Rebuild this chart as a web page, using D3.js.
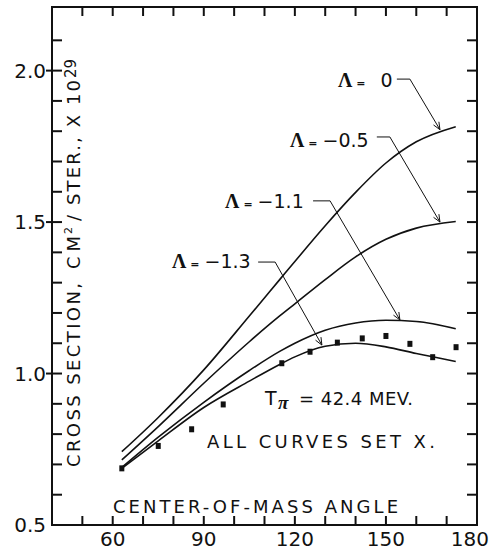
<!DOCTYPE html>
<html>
<head>
<meta charset="utf-8">
<script src="https://cdn.jsdelivr.net/npm/d3@7"></script>
<style>
  body { margin: 0; background: #fff; }
  text { font-family: "DejaVu Sans", sans-serif; fill: #111; }
</style>
</head>
<body>
<div id="main"></div>
<script>
// curves: c.m. angle (deg) vs cross section (x 10^-29 cm2/ster)
var curveAngles = [63, 75, 90, 105, 115, 120, 130, 140, 150, 160, 173];
var lambda0 = [0.742, 0.855, 1.012, 1.190, 1.310, 1.370, 1.488, 1.598, 1.695, 1.765, 1.815];
var lambdaM05 = [0.715, 0.825, 0.968, 1.105, 1.190, 1.230, 1.310, 1.385, 1.443, 1.480, 1.502];
var lambdaM11 = [0.690, 0.790, 0.905, 1.010, 1.073, 1.100, 1.143, 1.167, 1.176, 1.172, 1.148];
var lambdaM13 = [0.687, 0.778, 0.888, 0.975, 1.030, 1.055, 1.090, 1.100, 1.088, 1.066, 1.040];

// measured points
var pointAngles = [63, 75, 86, 96.4, 115.7, 125, 134, 142.2, 150, 157.9, 165.4, 173.1];
var pointValues = [0.687, 0.761, 0.816, 0.898, 1.034, 1.072, 1.102, 1.116, 1.124, 1.098, 1.054, 1.087];

// axis ticks
var xTicks = [50, 60, 70, 80, 90, 100, 110, 120, 130, 140, 150, 160, 170];
var xLabels = [60, 90, 120, 150, 180];
var yTicks = [0.6, 0.7, 0.8, 0.9, 1.0, 1.1, 1.2, 1.3, 1.4, 1.5, 1.6, 1.7, 1.8, 1.9, 2.0, 2.1];
var yLabels = [0.5, 1.0, 1.5, 2.0];

// annotations (data coords): label start, leader [x0, x1, y], arrow tip
var lambdaNames = ["0", "\u22120.5", "\u22121.1", "\u22121.3"];
var labelAt = [[134.2, 1.946], [118.4, 1.748], [97.0, 1.547], [79.5, 1.348]];
var leaders = [[153.6, 157.9, 1.972], [147.0, 151.3, 1.781], [126.0, 131.6, 1.570], [107.9, 113.5, 1.368]];
var tips = [[167.8, 1.805], [167.8, 1.500], [154.6, 1.177], [128.9, 1.094]];

var width = 490, height = 550;
var svg = d3.select("#main").append("svg")
  .attr("width", width).attr("height", height);

var x = d3.scaleLinear().domain([40, 180]).range([52, 477]);
var y = d3.scaleLinear().domain([0.5, 2.21]).range([525, 7]);
var xL = x(40), xR = x(180), yB = y(0.5), yT = y(2.21);

// frame
svg.append("rect")
  .attr("x", xL).attr("y", yT)
  .attr("width", xR - xL).attr("height", yB - yT)
  .attr("fill", "none").attr("stroke", "#111").attr("stroke-width", 2);

// inward ticks
var tickG = svg.append("g").attr("class", "ticks");
tickG.selectAll("path.tb").data(xTicks).enter().append("path")
  .attr("class", "tb")
  .attr("d", function (d) { return "M" + x(d) + "," + yB + "V" + (yB - 9); });
tickG.selectAll("path.tt").data(xTicks).enter().append("path")
  .attr("class", "tt")
  .attr("d", function (d) { return "M" + x(d) + "," + yT + "V" + (yT + 9); });
tickG.selectAll("path.tl").data(yTicks).enter().append("path")
  .attr("class", "tl")
  .attr("d", function (d) {
    return "M" + (yLabels.indexOf(d) >= 0 ? xL - 6 : xL) + "," + y(d) + "H" + (xL + 10);
  });
tickG.selectAll("path.tr").data(yTicks).enter().append("path")
  .attr("class", "tr")
  .attr("d", function (d) { return "M" + (xR - 10) + "," + y(d) + "H" + xR; });
tickG.selectAll("path")
  .attr("fill", "none").attr("stroke", "#111").attr("stroke-width", 2);

// tick labels
svg.selectAll(".xlab").data(xLabels).enter().append("text")
  .attr("x", function (d) { return d === 180 ? 489 : x(d); }).attr("y", 546)
  .attr("text-anchor", function (d) { return d === 180 ? "end" : "middle"; })
  .style("font-size", "20px")
  .text(function (d) { return d; });
svg.selectAll(".ylab").data(yLabels).enter().append("text")
  .attr("x", xL - 6).attr("y", function (d) { return y(d); })
  .attr("dy", "0.35em").attr("text-anchor", "end").style("font-size", "20px")
  .text(function (d) { return d3.format(".1f")(d); });

// curves
var line = d3.line()
  .x(function (d) { return x(d[0]); })
  .y(function (d) { return y(d[1]); })
  .curve(d3.curveMonotoneX);

[lambda0, lambdaM05, lambdaM11, lambdaM13].forEach(function (vals) {
  svg.append("path")
    .datum(curveAngles.map(function (a, i) { return [a, vals[i]]; }))
    .attr("d", line)
    .attr("fill", "none").attr("stroke", "#111").attr("stroke-width", 1.6);
});

// data points
svg.selectAll(".pt")
  .data(pointAngles.map(function (a, i) { return [a, pointValues[i]]; }))
  .enter().append("rect")
  .attr("class", "pt")
  .attr("x", function (d) { return x(d[0]) - 2.5; })
  .attr("y", function (d) { return y(d[1]) - 3; })
  .attr("width", 5).attr("height", 6)
  .attr("fill", "#111");

// lambda labels with leaders and open arrowheads
lambdaNames.forEach(function (name, i) {
  var t = svg.append("text")
    .attr("x", x(labelAt[i][0])).attr("y", y(labelAt[i][1]));
  t.append("tspan").text("\u039B")
    .style("font-family", "Liberation Serif").style("font-weight", "bold").style("font-size", "20px");
  t.append("tspan").text("=").attr("dx", 4)
    .style("font-size", "11px").style("font-weight", "bold");
  t.append("tspan").text(name).attr("dx", name === "0" ? 15 : 5)
    .style("font-size", "19px");

  var l = leaders[i], tip = [x(tips[i][0]), y(tips[i][1])];
  var p0 = [x(l[0]), y(l[2])], p1 = [x(l[1]), y(l[2])];
  svg.append("path")
    .attr("d", "M" + p0 + "L" + p1 + "L" + tip)
    .attr("fill", "none").attr("stroke", "#111").attr("stroke-width", 1);
  var dx = tip[0] - p1[0], dy = tip[1] - p1[1], len = Math.sqrt(dx * dx + dy * dy);
  dx /= len; dy /= len;
  var a = 0.4, s = 8;
  var h1 = [tip[0] - s * (dx * Math.cos(a) - dy * Math.sin(a)), tip[1] - s * (dx * Math.sin(a) + dy * Math.cos(a))];
  var h2 = [tip[0] - s * (dx * Math.cos(-a) - dy * Math.sin(-a)), tip[1] - s * (dx * Math.sin(-a) + dy * Math.cos(-a))];
  svg.append("path")
    .attr("d", "M" + h1 + "L" + tip + "L" + h2)
    .attr("fill", "none").attr("stroke", "#111").attr("stroke-width", 1);
});

// energy note
svg.append("text").text("T").attr("x", 265).attr("y", 405).style("font-size", "19px");
svg.append("text").text("\u03C0").attr("x", 278).attr("y", 409)
  .style("font-family", "Liberation Serif").style("font-style", "italic").style("font-weight", "bold").style("font-size", "19px");
svg.append("text").text("= 42.4 MEV.").attr("x", 299).attr("y", 405)
  .attr("textLength", 114).attr("lengthAdjust", "spacing").style("font-size", "18px");

svg.append("text").text("ALL CURVES SET X.").attr("x", 207).attr("y", 448)
  .attr("textLength", 228).attr("lengthAdjust", "spacing").style("font-size", "18px");

svg.append("text").text("CENTER-OF-MASS ANGLE").attr("x", 113).attr("y", 513)
  .attr("textLength", 285).attr("lengthAdjust", "spacing").style("font-size", "18px");

// y axis title, rotated
var yt = svg.append("g").attr("transform", "translate(80,467) rotate(-90)");
yt.append("text").text("CROSS SECTION,").attr("x", 0).attr("y", 0)
  .attr("textLength", 184).attr("lengthAdjust", "spacing").style("font-size", "18px");
yt.append("text").text("CM").attr("x", 198).attr("y", 0)
  .attr("textLength", 33).attr("lengthAdjust", "spacing").style("font-size", "18px");
yt.append("text").text("2").attr("x", 233).attr("y", -8).style("font-size", "11px");
yt.append("text").text("/ STER., X 10").attr("x", 246).attr("y", 0)
  .attr("textLength", 141).attr("lengthAdjust", "spacing").style("font-size", "18px");
yt.append("text").text("29").attr("x", 389).attr("y", -4).style("font-size", "15px");
</script>
</body>
</html>
